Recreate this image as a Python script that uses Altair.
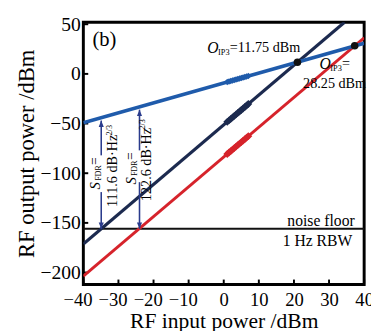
import altair as alt
import pandas as pd

FONT = "Liberation Serif"

# axis ticks
x_ticks = [-40, -30, -20, -10, 0, 10, 20, 30, 40]
y_ticks = [-200, -150, -100, -50, 0, 50]

# fitted lines (end points)
fund_x = [-40, 40]
fund_y = [-49.2, 30.8]
imd_a_x = [-40, 34.4]
imd_a_y = [-171.25, 52]
imd_b_x = [-40, 40]
imd_b_y = [-203.65, 36.35]

# measured points
meas_x = [1, 1.5, 2, 2.5, 3, 3.5, 4, 4.5, 5, 5.5, 6, 6.5, 7]
meas_fund_y = [-8.2, -7.7, -7.2, -6.7, -6.2, -5.7, -5.2, -4.7, -4.2, -3.7, -3.2, -2.7, -2.2]
meas_imd_a_y = [-48.3, -46.8, -45.3, -43.8, -42.3, -40.8, -39.3, -37.8, -36.3, -34.8, -33.3, -31.8, -30.3]
meas_imd_b_y = [-80.7, -79.2, -77.7, -76.2, -74.7, -73.2, -71.7, -70.2, -68.7, -67.2, -65.7, -64.2, -62.7]

# OIP3 intersection points
oip3_x = [21, 37.3]
oip3_y = [11.75, 28.25]

noise_floor = [-156]

# SFDR double arrows (shaft segments)
arrow_x = [-34.9, -34.9, -24.0, -24.0]
arrow_top = [-47, -119, -36, -109]
arrow_bot = [-82, -156, -77, -156]
head_up_x = [-34.9, -24.0]
head_up_y = [-47, -36]
head_dn_x = [-34.9, -24.0]
head_dn_y = [-156, -156]

# texts
panel_label = "(b)"
oip3_a_text = ["O", "IP3", "=11.75 dBm"]
oip3_b_text = ["O", "IP3", "=", "28.25 dBm"]
sfdr_a_text = ["S", "FDR", "=", "111.6 dB·Hz", "2/3"]
sfdr_b_text = ["S", "FDR", "=", "122.6 dB·Hz", "2/3"]
nf_text = ["noise floor", "1 Hz RBW"]
x_title = "RF input power /dBm"
y_title = "RF output power /dBm"

BLUE = "#1f5bab"
NAVY = "#1c2a4f"
RED = "#d6232b"
ARROW = "#2a3b8c"

XS = alt.Scale(domain=[-40, 40], nice=False, zero=False)
YS = alt.Scale(domain=[-212, 52], nice=False, zero=False)

XAX = alt.Axis(values=x_ticks, ticks=False, domain=False, grid=False,
               labelPadding=7, labelFontSize=19, labelOverlap=False,
               labelFlush=False, title=x_title,
               titleFontSize=22, titlePadding=1,
               labelOffset={"condition": {"test": "datum.value < 0", "value": -6}, "value": 0})
YAX = alt.Axis(values=y_ticks, ticks=False, domain=False, grid=False,
               labelPadding=3, labelFontSize=20, labelOverlap=False,
               labelFlush=False, title=y_title,
               titleFontSize=23, titlePadding=2)


def X(f):
    return alt.X(f, type="quantitative", scale=XS, axis=XAX)


def Y(f):
    return alt.Y(f, type="quantitative", scale=YS, axis=YAX)


def line(xs, ys, color, width):
    df = pd.DataFrame({"x": xs, "y": ys})
    return alt.Chart(df).mark_line(color=color, strokeWidth=width, clip=True).encode(
        x=X("x"), y=Y("y"))


def pts(xs, ys, color, size, shape="diamond"):
    df = pd.DataFrame({"x": xs, "y": ys})
    return alt.Chart(df).mark_point(color=color, filled=True, opacity=1, size=size,
                                    shape=shape).encode(x=X("x"), y=Y("y"))


def label(x, y, text, size, style="normal", angle=0, align="left",
          baseline="middle", dx=0, dy=0, color="black"):
    df = pd.DataFrame({"x": [x], "y": [y], "t": [text]})
    return alt.Chart(df).mark_text(font=FONT, fontSize=size, fontStyle=style,
                                   angle=angle, align=align, baseline=baseline,
                                   dx=dx, dy=dy, color=color).encode(
        x=X("x"), y=Y("y"), text="t:N")


layers = []

# inward ticks
tx = pd.DataFrame({"x": x_ticks})
layers.append(alt.Chart(tx).mark_rule(color="black", strokeWidth=2).encode(
    x=X("x"), y=alt.value(268), y2=alt.value(263)))
ty = pd.DataFrame({"y": y_ticks})
layers.append(alt.Chart(ty).mark_rule(color="black", strokeWidth=2).encode(
    y=Y("y"), x=alt.value(0), x2=alt.value(5)))

# noise floor
nf = pd.DataFrame({"y": noise_floor})
layers.append(alt.Chart(nf).mark_rule(color="#111111", strokeWidth=2).encode(y=Y("y")))

# lines
layers.append(line(imd_b_x, imd_b_y, RED, 3))
layers.append(line(imd_a_x, imd_a_y, NAVY, 3.2))
layers.append(line(fund_x, fund_y, BLUE, 3.8))

# measured points
layers.append(pts(meas_x, meas_fund_y, BLUE, 45))
layers.append(pts(meas_x, meas_imd_a_y, NAVY, 65))
layers.append(pts(meas_x, meas_imd_b_y, RED, 65))

# OIP3 points
layers.append(pts(oip3_x, oip3_y, "#111111", 60, "circle"))

# arrows
adf = pd.DataFrame({"x": arrow_x, "y": arrow_top, "y2": arrow_bot})
layers.append(alt.Chart(adf).mark_rule(color=ARROW, strokeWidth=1.6).encode(
    x=X("x"), y=Y("y"), y2="y2"))
layers.append(pts(head_up_x, head_up_y, ARROW, 170, "M0,0 L-0.4,1 L0.4,1 Z"))
layers.append(pts(head_dn_x, head_dn_y, ARROW, 170, "M0,0 L-0.4,-1 L0.4,-1 Z"))

# panel label
layers.append(label(-37.4, 34.3, panel_label, 21))

# OIP3 labels
layers.append(label(-4.7, 26.4, oip3_a_text[0], 16, style="italic"))
layers.append(label(-4.7, 26.4, oip3_a_text[1], 8.5, dx=11, dy=4))
layers.append(label(-4.7, 26.4, oip3_a_text[2], 14.5, dx=23))
layers.append(label(27.3, 9.6, oip3_b_text[0], 16, style="italic"))
layers.append(label(27.3, 9.6, oip3_b_text[1], 8.5, dx=11, dy=4))
layers.append(label(27.3, 9.6, oip3_b_text[2], 14.5, dx=23))
layers.append(label(22.6, -10.0, oip3_b_text[3], 14.5))

# SFDR labels (rotated)
for (sx, sy, tx_, ty_, txt) in [(-36.7, -116.3, -31.4, -134.0, sfdr_a_text),
                                 (-26.5, -111.4, -21.9, -128.1, sfdr_b_text)]:
    layers.append(label(sx, sy, txt[0], 15, style="italic", angle=270))
    layers.append(label(sx, sy, txt[1], 8, angle=270, dx=9, dy=4))
    layers.append(label(sx, sy, txt[2], 14, angle=270, dx=25))
    layers.append(label(tx_, ty_, txt[3], 14.5, angle=270))
    layers.append(label(tx_, ty_, txt[4], 8.5, angle=270, dx=73, dy=-5))

# noise floor labels
layers.append(label(37.3, -147.8, nf_text[0], 16, align="right"))
layers.append(label(36.6, -168.5, nf_text[1], 16, align="right"))

chart = alt.layer(*layers).properties(
    width=287, height=268,
    autosize=alt.AutoSizeParams(type="none"),
    padding={"left": 77, "top": 11, "right": 7, "bottom": 44},
).configure_view(stroke="black", strokeWidth=3).configure_axis(
    labelFont=FONT, titleFont=FONT, labelColor="black", titleColor="black",
    titleFontWeight="normal"
).configure_point(strokeWidth=0)

chart.save("out.html", embed_options={"renderer": "svg", "actions": False})
